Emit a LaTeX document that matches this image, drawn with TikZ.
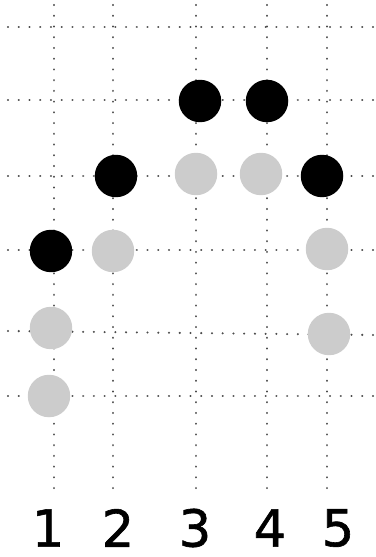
\documentclass[tikz,border=0pt]{standalone}
\usepackage{fontspec}
\newfontfamily\digitfont[FakeBold=1.2]{DejaVu Sans}
\usetikzlibrary{positioning}

\begin{document}
\begin{tikzpicture}[x=0.02cm, y=-0.02cm,
    gridline/.style={draw=black!70, line width=1.3pt, line cap=round, dash pattern=on 0.01pt off 6.1pt},
    stone/.style={circle, minimum size=0.85cm, inner sep=0pt},
    blackstone/.style={stone, fill=black},
    greystone/.style={stone, fill=black!20},
    colnum/.style={font=\digitfont\fontsize{29}{30}\selectfont, inner sep=0pt}]
    \useasboundingbox (0,0) rectangle (375,557);

    % grid
    \foreach \x in {54,113,196,267,327}
        \draw[gridline] (\x,5) -- (\x,490);
    \foreach \y/\yy in {27/27,100/100,176/176,250/250,331/335,396/396}
        \draw[gridline] (8,\y) -- (373,\yy);

    % black stones
    \node[blackstone] (b3) at (200,101) {};
    \node[blackstone] (b4) at (267,101) {};
    \node[blackstone] (b2) at (116,176) {};
    \node[blackstone] (b5) at (322,176) {};
    \node[blackstone] (b1) at (51,251) {};

    % grey stones
    \node[greystone] (g3) at (196,174) {};
    \node[greystone] (g4) at (261,174) {};
    \node[greystone] (g2) at (113,251) {};
    \node[greystone] (g5a) at (327,249) {};
    \node[greystone] (g1a) at (51,328) {};
    \node[greystone] (g5b) at (329,334) {};
    \node[greystone] (g1b) at (49,396) {};

    % column numbers
    \node[colnum] (n1) at (48,528) {1};
    \node[colnum] (n2) at (118,528) {2};
    \node[colnum] (n3) at (195,528) {3};
    \node[colnum] (n4) at (270,528) {4};
    \node[colnum] (n5) at (338,528) {5};
\end{tikzpicture}
\end{document}
